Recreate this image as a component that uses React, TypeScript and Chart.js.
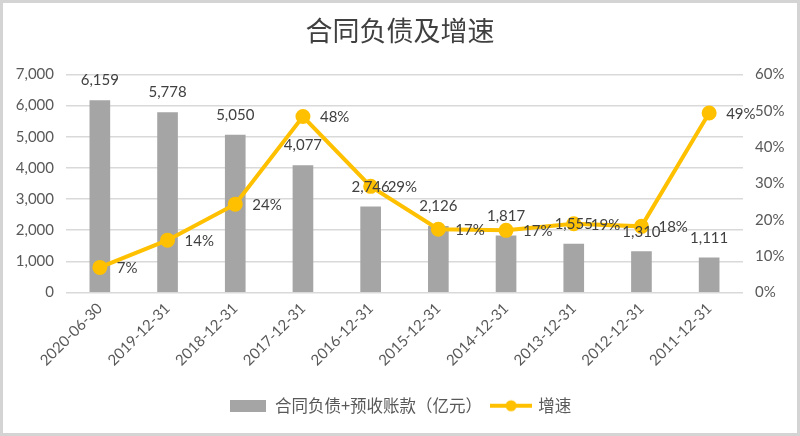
import React, { useEffect, useRef } from "react";
import { Chart, registerables } from "chart.js";

Chart.register(...registerables);

const title = "合同负债及增速";
const categories = [
  "2020-06-30",
  "2019-12-31",
  "2018-12-31",
  "2017-12-31",
  "2016-12-31",
  "2015-12-31",
  "2014-12-31",
  "2013-12-31",
  "2012-12-31",
  "2011-12-31",
];
const barLabel = "合同负债+预收账款（亿元）";
const barValues = [6159, 5778, 5050, 4077, 2746, 2126, 1817, 1555, 1310, 1111];
const lineLabel = "增速";
const growthValues = [6.9, 14.4, 24.3, 48.4, 29.2, 17.4, 17.1, 18.9, 18.2, 49.4];
const leftTickMax = 7000;
const leftTickStep = 1000;
const rightTickMax = 60;
const rightTickStep = 10;

const FONT = "Lato, 'Noto Sans CJK SC', sans-serif";
const CJK = "'Noto Sans CJK SC', Lato, sans-serif";
const TEXT = "#595959";
const LABEL = "#404040";
const BAR = "#a5a5a5";
const GOLD = "#ffc000";

function barIcon() {
  const c = document.createElement("canvas");
  c.width = 36;
  c.height = 12;
  const g = c.getContext("2d")!;
  g.fillStyle = BAR;
  g.fillRect(0, 0, 36, 12);
  return c;
}
function lineIcon() {
  const c = document.createElement("canvas");
  c.width = 42;
  c.height = 14;
  const g = c.getContext("2d")!;
  g.strokeStyle = GOLD;
  g.lineWidth = 4;
  g.beginPath();
  g.moveTo(0, 7);
  g.lineTo(42, 7);
  g.stroke();
  g.fillStyle = GOLD;
  g.beginPath();
  g.arc(21, 7, 5.5, 0, Math.PI * 2);
  g.fill();
  return c;
}

const framePlugin = {
  id: "frame",
  beforeDraw(chart: any) {
    const { ctx, width, height } = chart;
    ctx.save();
    ctx.fillStyle = "#ffffff";
    ctx.fillRect(0, 0, width, height);
    ctx.restore();
  },
  afterDraw(chart: any) {
    const { ctx, width, height } = chart;
    ctx.save();
    ctx.strokeStyle = "#d4d4d4";
    ctx.lineWidth = 3;
    ctx.strokeRect(1.5, 1.5, width - 3, height - 3);
    ctx.restore();
  },
};

const valueLabelPlugin = {
  id: "valueLabels",
  afterDatasetsDraw(chart: any) {
    const { ctx } = chart;
    ctx.save();
    ctx.font = `15px ${FONT}`;
    ctx.fillStyle = LABEL;
    ctx.textBaseline = "middle";
    chart.data.datasets.forEach((ds: any, di: number) => {
      const meta = chart.getDatasetMeta(di);
      meta.data.forEach((el: any, i: number) => {
        const v = ds.data[i];
        if (ds.type === "bar") {
          ctx.textAlign = "center";
          ctx.fillText(v.toLocaleString("en-US"), el.x, el.y - 20);
        } else {
          ctx.textAlign = "left";
          ctx.fillText(Math.round(v) + "%", el.x + 17, el.y + 1);
        }
      });
    });
    ctx.restore();
  },
};

export default function App() {
  const ref = useRef<HTMLCanvasElement | null>(null);
  useEffect(() => {
    document.body.style.margin = "0";
    const bIcon = barIcon();
    const lIcon = lineIcon();
    const chart = new Chart(ref.current!, {
      type: "bar",
      data: {
        labels: categories,
        datasets: [
          {
            type: "line",
            label: lineLabel,
            data: growthValues,
            yAxisID: "y1",
            borderColor: GOLD,
            backgroundColor: GOLD,
            borderWidth: 4,
            pointRadius: 5.5,
            pointBackgroundColor: GOLD,
            pointBorderColor: GOLD,
            tension: 0,
          } as any,
          {
            type: "bar",
            label: barLabel,
            data: barValues,
            yAxisID: "y",
            backgroundColor: BAR,
            borderColor: "#9a9a9a",
            borderWidth: 0,
            barThickness: 20,
          } as any,
        ],
      },
      options: {
        animation: false,
        responsive: false,
        maintainAspectRatio: false,
        layout: { padding: { top: 0, left: 0, right: 0, bottom: 12 } },
        plugins: {
          tooltip: { enabled: false },
          title: {
            display: true,
            text: title,
            color: LABEL,
            font: { family: CJK, size: 27, weight: "normal" as any },
            padding: { top: 15, bottom: 27 },
          },
          legend: {
            position: "bottom",
            reverse: true,
            labels: {
              usePointStyle: true,
              pointStyleWidth: 38,
              color: TEXT,
              font: { family: CJK, size: 16.5 },
              padding: 10,
              generateLabels(chart: any) {
                const items = (Chart.defaults.plugins.legend.labels as any).generateLabels(chart);
                return items.map((it: any) => ({
                  ...it,
                  pointStyle: chart.data.datasets[it.datasetIndex].type === "bar" ? bIcon : lIcon,
                }));
              },
            },
          },
        },
        scales: {
          x: {
            grid: { display: false, drawTicks: false },
            border: { display: false },
            ticks: {
              color: TEXT,
              font: { family: FONT, size: 15 },
              minRotation: 45,
              maxRotation: 45,
              padding: 7,
            },
            afterFit(scale: any) {
              scale.height = 95;
            },
          },
          y: {
            position: "left",
            min: 0,
            max: leftTickMax,
            ticks: {
              stepSize: leftTickStep,
              color: TEXT,
              font: { family: FONT, size: 15 },
              padding: 12,
              callback: (v: any) => Number(v).toLocaleString("en-US"),
            },
            grid: { color: "#d9d9d9", lineWidth: 1.5, drawTicks: false },
            border: { display: false },
            afterFit(scale: any) {
              scale.width = 66;
            },
          },
          y1: {
            position: "right",
            min: 0,
            max: rightTickMax,
            ticks: {
              stepSize: rightTickStep,
              color: TEXT,
              font: { family: FONT, size: 15 },
              padding: 12,
              callback: (v: any) => v + "%",
            },
            grid: { display: false, drawTicks: false },
            border: { display: false },
            afterFit(scale: any) {
              scale.width = 57;
            },
          },
        },
      },
      plugins: [framePlugin, valueLabelPlugin],
    });
    return () => chart.destroy();
  }, []);
  return (
    <div style={{ position: "absolute", left: 0, top: 0, width: 800, height: 436 }}>
      <canvas ref={ref} width={800} height={436} style={{ display: "block", width: 800, height: 436 }} />
    </div>
  );
}
